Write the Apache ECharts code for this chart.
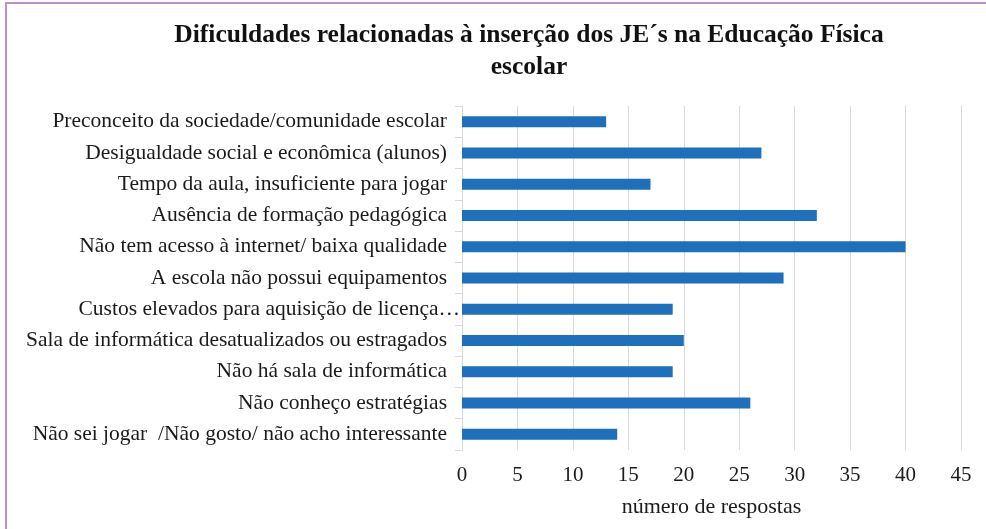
<!DOCTYPE html>
<html>
<head>
<meta charset="utf-8">
<script src="https://cdn.jsdelivr.net/npm/echarts@6/dist/echarts.min.js"></script>
<style>
html,body{margin:0;padding:0;background:#fff;}
#wrap{position:relative;width:986px;height:529px;}
#chart{width:986px;height:529px;}
#frame{position:absolute;left:5px;top:2px;right:0;bottom:0;border-left:2px solid #c08fc8;border-top:2px solid #c08fc8;pointer-events:none;}
</style>
</head>
<body>
<div id="wrap"><div id="chart"></div><div id="frame"></div></div>
<script>
const categories = [
  "Preconceito da sociedade/comunidade escolar",
  "Desigualdade social e econômica (alunos)",
  "Tempo da aula, insuficiente para jogar",
  "Ausência de formação pedagógica",
  "Não tem acesso à internet/ baixa qualidade",
  "A escola não possui equipamentos",
  "Custos elevados para aquisição de licença…",
  "Sala de informática desatualizados ou estragados",
  "Não há sala de informática",
  "Não conheço estratégias",
  "Não sei jogar  /Não gosto/ não acho interessante"
];
const values = [13, 27, 17, 32, 40, 29, 19, 20, 19, 26, 14];
const xTicks = [0, 5, 10, 15, 20, 25, 30, 35, 40, 45];

const chart = echarts.init(document.getElementById('chart'));
const lf = 'Liberation Serif';
chart.setOption({
  animation: false,
  title: {
    text: 'Dificuldades relacionadas à inserção dos JE´s na Educação Física\nescolar',
    left: 524,
    textAlign: 'center',
    top: 14,
    textStyle: {fontFamily: lf, fontWeight: 'bold', fontSize: 25.5, lineHeight: 32, color: '#111'}
  },
  grid: {left: 462, right: 25, top: 106, bottom: 79, containLabel: false},
  xAxis: {
    type: 'value', min: 0, max: 45, interval: 5,
    name: 'número de respostas', nameLocation: 'middle', nameGap: 46,
    nameTextStyle: {fontFamily: lf, fontSize: 22, color: '#1a1a1a'},
    axisLine: {show: false}, axisTick: {show: false},
    axisLabel: {fontFamily: lf, fontSize: 21, color: '#1a1a1a', margin: 15,
      formatter: v => xTicks.includes(v) ? String(v) : ''},
    splitLine: {show: true, lineStyle: {color: '#d9d9d9', width: 1}}
  },
  yAxis: {
    type: 'category', inverse: true, data: categories,
    axisLine: {show: true, lineStyle: {color: '#d9d9d9'}},
    axisTick: {show: true, length: 7, lineStyle: {color: '#d9d9d9'}},
    axisLabel: {
      fontFamily: lf, fontSize: 21.5, color: '#1a1a1a', margin: 2,
      formatter: (v) => v.endsWith('…') ? '{b|' + v + '}' : '{a|' + v + '}',
      rich: {
        a: {fontFamily: lf, fontSize: 21.5, color: '#1a1a1a', padding: [0, 13, 0, 0]},
        b: {fontFamily: lf, fontSize: 21.5, color: '#1a1a1a', padding: [0, 0, 0, 0]}
      }
    }
  },
  series: [{
    type: 'bar', data: values, barWidth: 11,
    itemStyle: {color: '#1f6fba'}
  }]
});
</script>
</body>
</html>
